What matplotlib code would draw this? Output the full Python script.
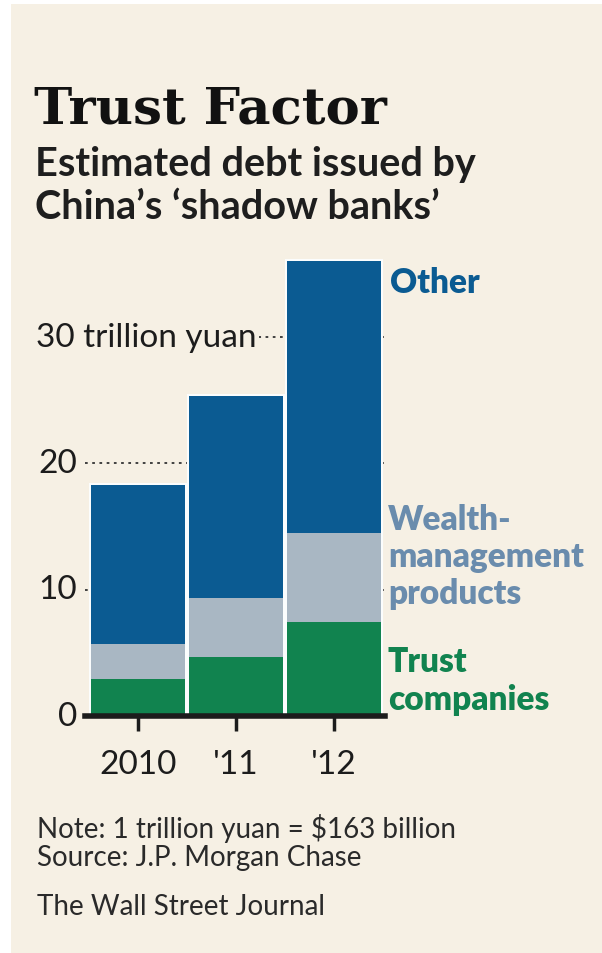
import numpy as np
import matplotlib.pyplot as plt
from matplotlib.patches import Rectangle

# Estimated debt, trillion yuan
years = ["2010", "'11", "'12"]
trust = [2.9, 4.7, 7.4]
wealth = [2.8, 4.6, 7.1]
other = [12.6, 16.0, 21.5]

yticks = [0, 10, 20, 30]

c_other = "#0b5b92"
c_wealth = "#a9b7c3"
c_trust = "#11834f"
bg = "#f6f0e4"
ink = "#1c1c1c"

W, H = 602, 954
fig = plt.figure(figsize=(W / 100, H / 100), dpi=100, facecolor="white")

# beige panel
fig.patches.append(Rectangle((11 / W, 0), 1, 1 - 5 / H, transform=fig.transFigure,
                             facecolor=bg, edgecolor="none", zorder=-10))

def px(x, y):
    return x / W, 1 - y / H

sans = ["Lato", "DejaVu Sans"]

fig.text(*px(34, 124), "Trust Factor", family=["DejaVu Serif"], weight="bold",
         fontsize=37, color="#111111", va="baseline")
fig.text(*px(35, 176), "Estimated debt issued by", family=sans, weight="bold",
         fontsize=28.5, color="#1e1e1e", va="baseline")
fig.text(*px(35, 219), "China\u2019s \u2018shadow banks\u2019", family=sans, weight="bold",
         fontsize=28.5, color="#1e1e1e", va="baseline")

# axes: y=0 at 717px, 12.65px per unit; x from 85px to 385px
ymax = 37
ax = fig.add_axes([85 / W, (H - 717) / H, 300 / W, ymax * 12.65 / H])
ax.set_facecolor("none")
ax.set_xlim(-0.54, 2.52)
ax.set_ylim(0, ymax)

x = np.arange(len(years))
b1 = np.array(trust)
b2 = b1 + np.array(wealth)
total = b2 + np.array(other)

# pale halo behind the columns gives the light gaps between them
ax.bar(x, total + 0.15, 1.0, color="#fbfdfd", zorder=1.5)
bw = 0.955
ax.bar(x, trust, bw, color=c_trust, zorder=2)
ax.bar(x, wealth, bw, bottom=b1, color=c_wealth, zorder=2)
ax.bar(x, other, bw, bottom=b2, color=c_other, zorder=2)

for v in yticks[1:]:
    ax.axhline(v, color="#333333", lw=1.3, ls=(0, (1.5, 2.5)), zorder=1)
ax.axhline(0, color=ink, lw=4, zorder=3, clip_on=False)

for s in ax.spines.values():
    s.set_visible(False)
ax.set_yticks([])
ax.set_xticks(x)
ax.set_xticklabels(years, family=sans, fontsize=24, color=ink)
ax.tick_params(axis="x", length=11, width=2.5, color=ink, pad=13)

for v in yticks:
    if v == 30:
        fig.text(*px(36, 338), "30 trillion yuan", ha="left", va="center", family=sans,
                 fontsize=24, color=ink, zorder=5,
                 bbox=dict(facecolor=bg, edgecolor="none", pad=2))
    else:
        ax.text(-0.62, v, str(v), ha="right", va="center", family=sans,
                fontsize=24, color=ink)

# right-hand series labels
lab = dict(family=sans, weight="heavy", fontsize=24, va="center", ha="left",
           linespacing=1.2)
fig.text(*px(390, 283), "Other", color=c_other, **lab)
fig.text(*px(388, 557), "Wealth-\nmanagement\nproducts", color="#6a8cad", **lab)
fig.text(*px(388, 681), "Trust\ncompanies", color=c_trust, **lab)

foot = dict(family=sans, fontsize=20, color="#2a2a2a", va="baseline")
fig.text(*px(37, 838), "Note: 1 trillion yuan = $163 billion", **foot)
fig.text(*px(37, 866), "Source: J.P. Morgan Chase", **foot)
fig.text(*px(37, 915), "The Wall Street Journal", **foot)

fig.savefig("out.png", dpi=100, facecolor="white")
